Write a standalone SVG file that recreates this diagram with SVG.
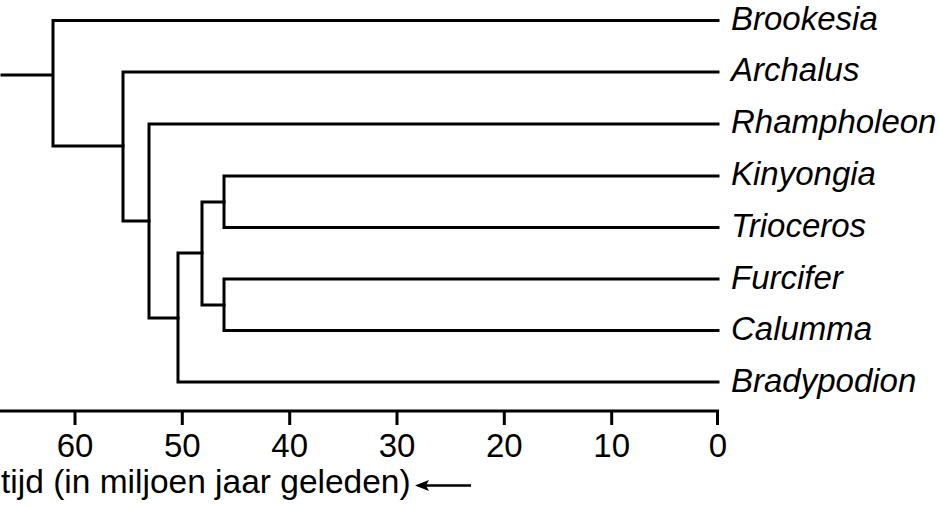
<svg xmlns="http://www.w3.org/2000/svg" width="939" height="506" viewBox="0 0 939 506">
<style>
.br{fill:none;stroke:#000;stroke-width:3;stroke-linecap:square;stroke-linejoin:miter}
.tx{font-family:"Liberation Sans",Arial,sans-serif;font-size:33px;fill:#000}
.it{font-style:italic}
.tk{text-anchor:middle}
</style>
<rect width="939" height="506" fill="#fff"/>
<g id="connectors">
<path class="br" d="M2,75 H53 M53,20.5 V146 M53,20.5 H718 M53,146 H123"/>
<path class="br" d="M123,72 V221 M123,72 H718 M123,221 H149"/>
<path class="br" d="M149,124 V318 M149,124 H718 M149,318 H178"/>
<path class="br" d="M178,253 V382 M178,382 H718 M178,253 H202"/>
<path class="br" d="M202,202 V305 M202,202 H224 M202,305 H224"/>
<path class="br" d="M224,176 V227.5 M224,176 H718 M224,227.5 H718"/>
<path class="br" d="M224,279 V330.5 M224,279 H718 M224,330.5 H718"/>
</g>
<g id="taxon-brookesia"><text class="tx it" x="731" y="29.5">Brookesia</text></g>
<g id="taxon-archalus"><text class="tx it" x="731" y="81">Archalus</text></g>
<g id="taxon-rhampholeon"><text class="tx it" x="731" y="133">Rhampholeon</text></g>
<g id="taxon-kinyongia"><text class="tx it" x="731" y="185">Kinyongia</text></g>
<g id="taxon-trioceros"><text class="tx it" x="731" y="237">Trioceros</text></g>
<g id="taxon-furcifer"><text class="tx it" x="731" y="288.5">Furcifer</text></g>
<g id="taxon-calumma"><text class="tx it" x="731" y="340">Calumma</text></g>
<g id="taxon-bradypodion"><text class="tx it" x="731" y="392">Bradypodion</text></g>
<g id="axis">
<path class="br" style="stroke-linecap:butt" d="M0,411 H719 M75,411 V425 M182.3,411 V425 M289.7,411 V425 M397,411 V425 M504.3,411 V425 M611.7,411 V425 M717.5,411 V425"/>
<text class="tx tk" x="75" y="457">60</text>
<text class="tx tk" x="182.3" y="457">50</text>
<text class="tx tk" x="289.7" y="457">40</text>
<text class="tx tk" x="397" y="457">30</text>
<text class="tx tk" x="504.3" y="457">20</text>
<text class="tx tk" x="611.7" y="457">10</text>
<text class="tx tk" x="718" y="457">0</text>
<text class="tx" style="font-size:33.5px" x="1" y="493">tijd (in miljoen jaar geleden)</text>
<line x1="424" y1="485.5" x2="471" y2="485.5" stroke="#000" stroke-width="2.5"/>
<path d="M415,485.5 L429,480 L426,485.5 L429,491 Z" fill="#000"/>
</g>
</svg>
